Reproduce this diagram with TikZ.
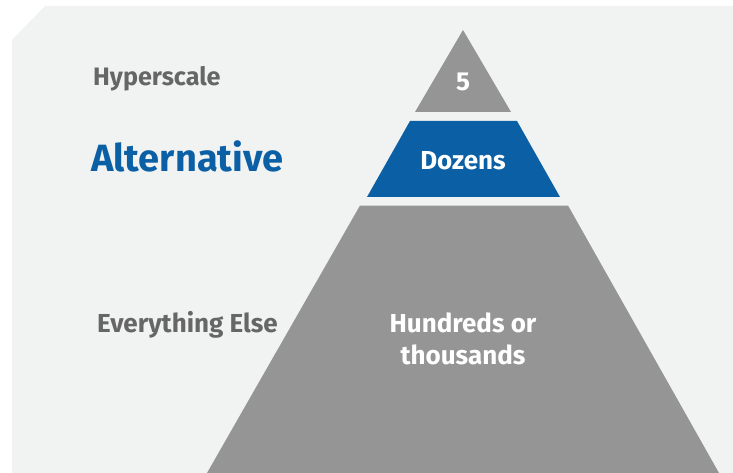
\documentclass[tikz,border=0pt]{standalone}
\usepackage{fontspec}
\setmainfont{Fira Sans}
\definecolor{panelgray}{HTML}{F1F2F2}
\definecolor{tiergray}{HTML}{959595}
\definecolor{tierblue}{HTML}{0B5FA5}
\definecolor{labelgray}{HTML}{666666}
\tikzset{
  tierlabel/.style={inner sep=0pt, font=\bfseries\fontsize{26}{30}\selectfont},
  sidelabel/.style={tierlabel, anchor=base west, text=labelgray}
}
\begin{document}
\begin{tikzpicture}[x=1pt,y=-1pt]
\useasboundingbox (0,0) rectangle (733,473);
% background panel with cut corner
\fill[panelgray] (45,6) -- (733,6) -- (733,473) -- (12,473) -- (12,40) -- cycle;
% pyramid tiers
\fill[tiergray] (463,30) -- (511,112) -- (415,112) -- cycle;
\fill[tierblue] (410,121) -- (517,121) -- (560,197) -- (367,197) -- cycle;
\fill[tiergray] (360,205.5) -- (568,205.5) -- (719,473) -- (207,473) -- cycle;
% tier texts
\node[tierlabel, anchor=base, text=white] (five) at (463,91) {5};
\node[tierlabel, anchor=base, text=white] (dozens) at (463,170) {Dozens};
\node[tierlabel, text=white, align=center,
  font=\bfseries\fontsize{26}{31.6}\selectfont] (hundreds) at (463,339) {Hundreds or\\thousands};
% side labels
\node[sidelabel, font=\bfseries\fontsize{25.2}{30}\selectfont] (hyper) at (93,86) {Hyperscale};
\node[sidelabel, text=tierblue, font=\bfseries\fontsize{38}{44}\selectfont] (alt) at (91,172) {Alternative};
\node[sidelabel] (else) at (97,332) {Everything Else};
\end{tikzpicture}
\end{document}
